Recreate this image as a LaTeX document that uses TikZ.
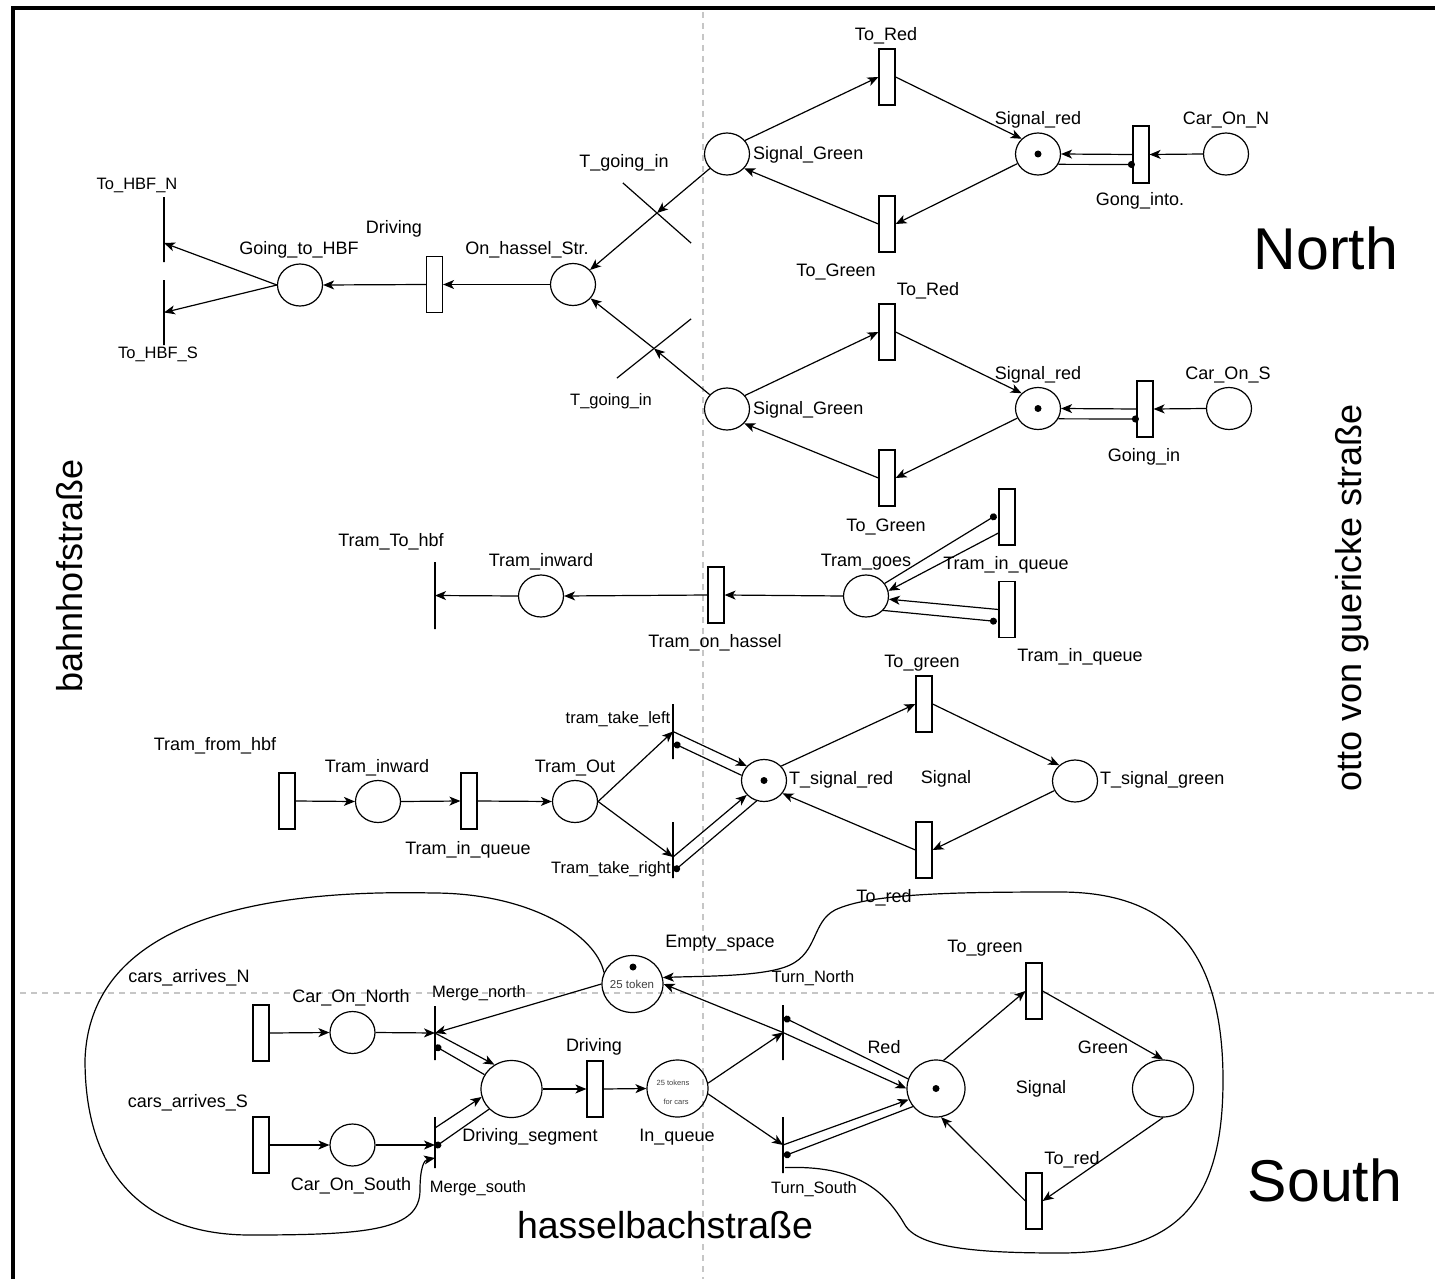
\documentclass[tikz,border=0pt]{standalone}
\usepackage{fontspec}
\setmainfont{Liberation Sans}
\usetikzlibrary{arrows.meta,shapes.geometric,calc}
\begin{document}
\begin{tikzpicture}[x=1pt,y=-1pt,
  placeN/.style={draw,ellipse,minimum width=45pt,minimum height=42pt,inner sep=0pt,line width=1.2pt},
  bigplace/.style={placeN,minimum width=61pt,minimum height=57pt},
  transN/.style={draw,rectangle,minimum width=16pt,minimum height=56pt,inner sep=0pt,line width=1.2pt},
  barN/.style={draw,rectangle,minimum width=0pt,minimum height=#1,inner sep=0pt,line width=1.2pt},
  barN/.default=56pt,
  lbl/.style={inner sep=0pt,font=\fontsize{18}{20}\selectfont},
  slbl/.style={inner sep=0pt,font=\fontsize{16.5}{18}\selectfont},
  bigl/.style={inner sep=0pt,font=\fontsize{59}{60}\selectfont},
  streetl/.style={inner sep=0pt,font=\fontsize{36}{38}\selectfont},
  tinyl/.style={inner sep=0pt,text=black!75},
  arw/.style={-{Stealth[length=11pt,width=9pt,inset=3pt]},line width=1.2pt},
  rdarc/.style={-{Circle[length=7pt]},line width=1.2pt},
  tokdot/.style={fill,circle,inner sep=0pt,minimum size=7pt},
  guide/.style={gray!45,dash pattern=on 6pt off 5pt,line width=1.5pt}
]
\useasboundingbox (0,0) rectangle (1435,1279);
% guides and frame
\draw[guide] (703,12) -- (703,1279);
\draw[guide] (20,993) -- (1435,993);
\draw[line width=3.5pt] (13,1279) -- (13,8) -- (1435,8);

% ---------- North: car part ----------
\node[barN=65pt] (hbfN) at (164,229.5) {};
\node[barN=65pt] (hbfS) at (164,312.5) {};
\node[placeN] (gth) at (300,285) {};
\node[transN] (drN) at (434.5,284.5) {};
\node[placeN] (onh) at (573,284.5) {};
\node[barN=91pt,rotate=48.6] (tgiU) at (657,213) {};
\node[barN=95pt,rotate=-51.4] (tgiL) at (654,348.5) {};
\node[placeN] (sg1) at (727,154) {};
\node[placeN] (sg2) at (727,409) {};
\node[transN] (tR1) at (887,77) {};
\node[transN] (tG1) at (887,224) {};
\node[transN] (tR2) at (887,332) {};
\node[transN] (tG2) at (887,478) {};
\node[placeN] (sr1) at (1038,154) {};
\node[placeN] (sr2) at (1038,408.5) {};
\node[tokdot] (k1) at (sr1.center) {};
\node[tokdot] (k2) at (sr2.center) {};
\node[transN,minimum height=57pt] (gin) at (1141,154.5) {};
\node[transN] (gi2) at (1145,409) {};
\node[placeN] (con) at (1226,154) {};
\node[placeN] (cos) at (1229,408.5) {};

\draw[arw] (drN.west) -- (gth.east);
\draw[arw] (onh.west) -- (drN.east);
\draw[arw] (gth.west) -- ($(hbfN.center)+(0,13.5)$);
\draw[arw] (gth.west) -- (hbfS.center);
\draw[arw] (sg1) -- (tgiU.center);
\draw[arw] (tgiU.center) -- (onh);
\draw[arw] (sg2) -- (tgiL.center);
\draw[arw] (tgiL.center) -- (onh);

\draw[arw] (sg1.37) -- (tR1.west);
\draw[arw] (tR1.east) -- (sr1.137);
\draw[arw] (sr1.-155) -- (tG1.east);
\draw[arw] (tG1.west) -- (sg1.-40);
\draw[arw] (sg2.37) -- (tR2.west);
\draw[arw] (tR2.east) -- (sr2.137);
\draw[arw] (sr2.-155) -- (tG2.east);
\draw[arw] (tG2.west) -- (sg2.-40);

\draw[arw] (con.west) -- (gin.east);
\draw[arw] (gin.west) -- (sr1.east);
\draw[rdarc] (sr1.-27) -- ($(gin.west)+(2.5,10)$);
\draw[arw] (cos.west) -- (gi2.east);
\draw[arw] (gi2.west) -- (sr2.east);
\draw[rdarc] (sr2.-27) -- ($(gi2.west)+(2.5,10)$);

\node[slbl] (lhbfN) at (137,185) {To\_HBF\_N};
\node[slbl] (lhbfS) at (158,354) {To\_HBF\_S};
\node[lbl] (lgth) at (299,250) {Going\_to\_HBF};
\node[lbl] (ldrN) at (394,229) {Driving};
\node[lbl] (lonh) at (527,250) {On\_hassel\_Str.};
\node[lbl] (ltgiU) at (624,163) {T\_going\_in};
\node[slbl] (ltgiL) at (611,401) {T\_going\_in};
\node[lbl,anchor=west] (lsg1) at (753,155) {Signal\_Green};
\node[lbl,anchor=west] (lsg2) at (753,410) {Signal\_Green};
\node[lbl] (ltR1) at (886,36) {To\_Red};
\node[lbl] (ltR2) at (928,291) {To\_Red};
\node[lbl] (ltG1) at (836,272) {To\_Green};
\node[lbl] (ltG2) at (886,527) {To\_Green};
\node[lbl] (lsr1) at (1038,120) {Signal\_red};
\node[lbl] (lsr2) at (1038,375) {Signal\_red};
\node[lbl] (lcon) at (1226,120) {Car\_On\_N};
\node[lbl] (lcos) at (1228,375) {Car\_On\_S};
\node[lbl] (lgin) at (1140,201) {Gong\_into.};
\node[lbl] (lgi2) at (1144,457) {Going\_in};
\node[bigl] (lnorth) at (1326,248) {North};
\node[streetl,rotate=90] (lbahn) at (70,576) {bahnhofstraße};
\node[streetl,rotate=90] (lotto) at (1352,598) {otto von guericke straße};

% ---------- Tram part ----------
\node[barN=67pt] (tth) at (435,595.5) {};
\node[placeN] (tiw1) at (541,596) {};
\node[transN] (toh) at (716,595) {};
\node[placeN] (tgo) at (866,596) {};
\node[transN] (tiq1) at (1007,517) {};
\node[transN] (tiq2) at (1007,609.5) {};

\draw[arw] (tgo.west) -- (toh.east);
\draw[arw] (toh.west) -- (tiw1.east);
\draw[arw] (tiw1.west) -- (tth.center);
\draw[rdarc] (tgo.34) -- ($(tiq1.west)+(-2,-2)$);
\draw[arw] ($(tiq1.west)+(0,16)$) -- (tgo.13);
\draw[arw] (tiq2.west) -- (tgo.-8);
\draw[rdarc] (tgo.-40) -- ($(tiq2.west)+(-1.5,12)$);

\node[transN] (tfh) at (287,801) {};
\node[placeN] (tiw2) at (378,801.5) {};
\node[transN] (tiq3) at (469,801) {};
\node[placeN] (tout) at (575,801.5) {};
\node[barN=55pt] (ttl) at (673,731.5) {};
\node[barN=56pt] (ttr) at (673,850) {};
\node[placeN] (tsr) at (764,780.5) {};
\node[tokdot] (k3) at (tsr.center) {};
\node[transN] (tgT) at (924,704) {};
\node[transN] (trT) at (924,850) {};
\node[placeN] (tsg) at (1075,781) {};

\draw[arw] (tfh.east) -- (tiw2.west);
\draw[arw] (tiw2.east) -- (tiq3.west);
\draw[arw] (tiq3.east) -- (tout.west);
\draw[arw] (tout.east) -- (ttl.center);
\draw[arw] (tout.east) -- ($(ttr.center)+(0,7)$);
\draw[arw] (ttl.center) -- (tsr.140);
\draw[rdarc] (tsr.167) -- ($(ttl.center)+(1,12)$);
\draw[arw] ($(ttr.center)+(0,7)$) -- (tsr.-140);
\draw[rdarc] (tsr.-110) -- ($(ttr.center)+(1,21)$);
\draw[arw] (tsr.40) -- (tgT.west);
\draw[arw] (tgT.east) -- (tsg.135);
\draw[arw] (tsg.-155) -- (trT.east);
\draw[arw] (trT.west) -- (tsr.-35);

\node[lbl] (ltth) at (391,542) {Tram\_To\_hbf};
\node[lbl] (ltiw1) at (541,562) {Tram\_inward};
\node[lbl] (ltoh) at (715,643) {Tram\_on\_hassel};
\node[lbl] (ltgo) at (866,562) {Tram\_goes};
\node[lbl] (ltiq1) at (1006,565) {Tram\_in\_queue};
\node[lbl] (ltiq2) at (1080,657) {Tram\_in\_queue};
\node[lbl] (ltfh) at (215,746) {Tram\_from\_hbf};
\node[lbl] (ltiw2) at (377,768) {Tram\_inward};
\node[lbl] (ltiq3) at (468,850) {Tram\_in\_queue};
\node[lbl] (ltout) at (575,768) {Tram\_Out};
\node[slbl] (lttl) at (618,719) {tram\_take\_left};
\node[slbl] (lttr) at (611,869) {Tram\_take\_right};
\node[lbl,anchor=west] (ltsr) at (789,780) {T\_signal\_red};
\node[lbl] (lsigT) at (946,779) {Signal};
\node[lbl] (ltgT) at (922,663) {To\_green};
\node[lbl,anchor=west] (ltsg) at (1100,780) {T\_signal\_green};
\node[lbl] (ltrT) at (884,898) {To\_red};

% ---------- South part ----------
\node[transN] (canT) at (261,1033) {};
\node[transN] (casT) at (261,1145) {};
\node[placeN] (cno) at (352.5,1032.5) {};
\node[placeN] (cso) at (352.5,1145) {};
\node[barN=54pt] (mn) at (435,1033) {};
\node[barN=51pt] (ms) at (435,1142.5) {};
\node[bigplace] (ds) at (511.5,1089) {};
\node[transN] (drS) at (595,1089) {};
\node[bigplace] (iq) at (677.5,1088.5) {};
\node[bigplace] (es) at (632.5,984) {};
\node[tokdot] (k4) at (633,967) {};
\node[tinyl,font=\fontsize{11.5}{12}\selectfont] (tes) at (632,984) {25 token};
\node[tinyl,font=\fontsize{7.5}{8}\selectfont] (tiq1t) at (673,1083) {25 tokens};
\node[tinyl,font=\fontsize{7.5}{8}\selectfont] (tiq2t) at (676,1102) {for cars};
\node[barN=55pt] (tn) at (783,1032.5) {};
\node[barN=56pt] (ts) at (783,1145) {};
\node[bigplace,minimum width=58pt] (red) at (936,1088.5) {};
\node[tokdot] (k5) at (red.center) {};
\node[transN] (tgS) at (1034,991) {};
\node[transN] (trS) at (1034,1201) {};
\node[bigplace] (grn) at (1163,1088.5) {};

\draw[arw] (canT.east) -- (cno.west);
\draw[arw] (cno.east) -- (mn.center);
\draw[arw] (casT.east) -- (cso.west);
\draw[arw] (cso.east) -- ($(ms.center)+(0,2.5)$);
\draw[arw] (es.west) -- (mn.center);
\draw[arw] (mn.center) -- (ds.125);
\draw[rdarc] (ds.152) -- ($(mn.center)+(0,13)$);
\draw[arw] ($(ms.center)+(0,-14.5)$) -- (ds.-165);
\draw[rdarc] (ds.-138) -- ($(ms.center)+(0,4.5)$);
\draw[arw] (ds.east) -- (drS.west);
\draw[arw] (drS.east) -- (iq.west);
\draw[arw] (iq.10) -- (tn.center);
\draw[arw] (iq.-10) -- (ts.center);
\draw[arw] (tn.center) -- (es.east);
\draw[arw] (tn.center) -- (red.west);
\draw[rdarc] (red.161) -- ($(tn.center)+(1,-15)$);
\draw[arw] (ts.center) -- (red.-158);
\draw[rdarc] (red.-142) -- ($(ts.center)+(1,11)$);
\draw[arw] (red.75) -- (tgS.west);
\draw[arw] (tgS.east) -- (grn.north);
\draw[arw] (grn.south) -- (trS.east);
\draw[arw] (trS.west) -- (red.-80);

% loops
\draw[arw] (es.158) .. controls (596,935) and (530,893) .. (433,893)
  .. controls (300,890) and (90,905) .. (85,1060)
  .. controls (85,1180) and (150,1235) .. (250,1235)
  .. controls (370,1235) and (420,1230) .. (420,1190)
  .. controls (420,1168) and (424,1160) .. ($(ms.center)+(0,15.5)$);
\draw[arw] ($(ts.south)+(2,-6)$) .. controls (855,1165) and (885,1190) .. (905,1225)
  .. controls (920,1250) and (990,1253) .. (1060,1253)
  .. controls (1180,1253) and (1223,1200) .. (1223,1080)
  .. controls (1223,940) and (1160,892) .. (1060,892)
  .. controls (960,892) and (870,893) .. (835,910)
  .. controls (812,922) and (818,952) .. (790,965)
  .. controls (765,977) and (700,976) .. (es.12);

\node[lbl] (lcan) at (189,978) {cars\_arrives\_N};
\node[lbl] (lcas) at (188,1103) {cars\_arrives\_S};
\node[lbl] (lcno) at (351,998) {Car\_On\_North};
\node[lbl] (lcso) at (351,1186) {Car\_On\_South};
\node[slbl] (lmn) at (479,993) {Merge\_north};
\node[slbl] (lms) at (478,1188) {Merge\_south};
\node[lbl] (lds) at (530,1137) {Driving\_segment};
\node[lbl] (ldrS) at (594,1047) {Driving};
\node[lbl] (liq) at (677,1137) {In\_queue};
\node[lbl] (les) at (720,943) {Empty\_space};
\node[slbl] (ltn) at (813,978) {Turn\_North};
\node[slbl] (lts) at (814,1189) {Turn\_South};
\node[lbl] (lred) at (884,1047) {Red};
\node[lbl] (ltgS) at (985,948) {To\_green};
\node[lbl] (lgrn) at (1103,1047) {Green};
\node[lbl] (lsigS) at (1041,1089) {Signal};
\node[lbl] (ltrS) at (1072,1160) {To\_red};
\node[bigl] (lsouth) at (1325,1180) {South};
\node[inner sep=0pt,font=\fontsize{37.5}{40}\selectfont] (lhassel) at (665,1225) {hasselbachstraße};
\end{tikzpicture}
\end{document}
